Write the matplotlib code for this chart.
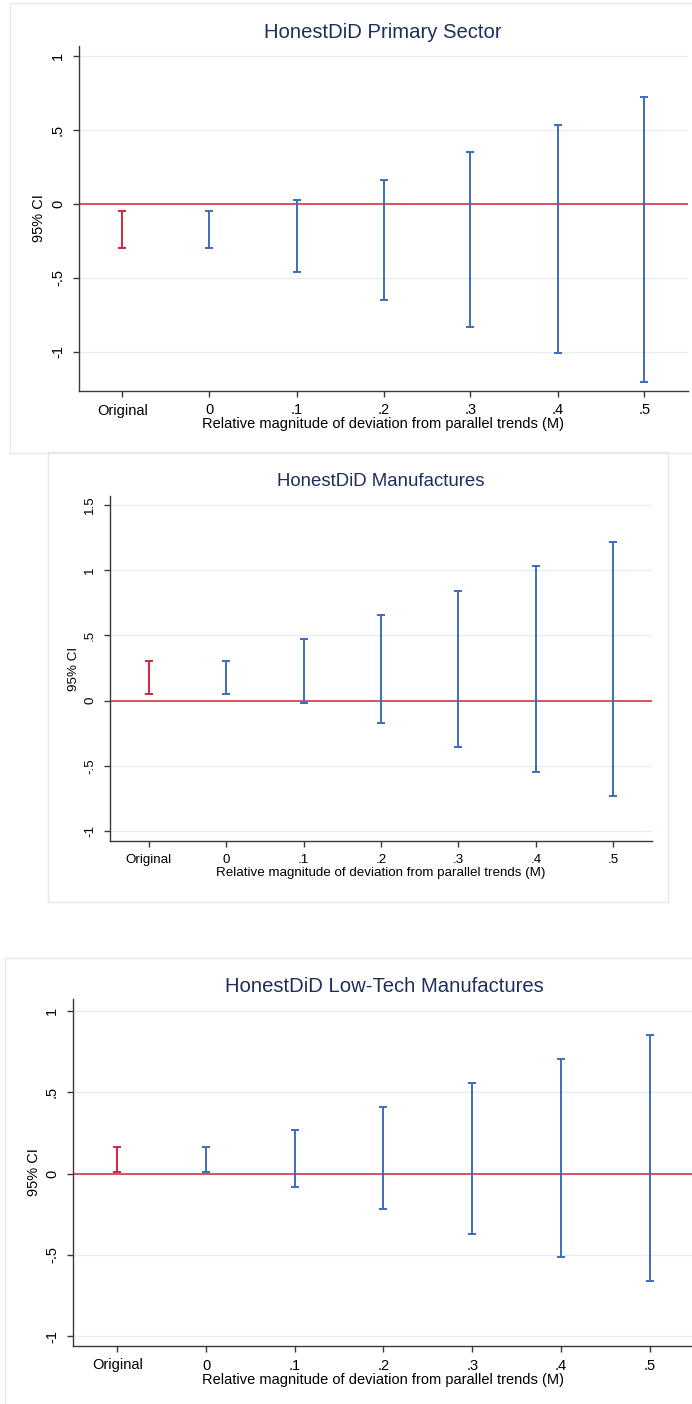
import matplotlib
matplotlib.use("Agg")
import matplotlib.pyplot as plt
from matplotlib.patches import Rectangle

W, H = 692, 1404

plt.rcParams['font.family'] = ['Liberation Sans', 'DejaVu Sans']

# HonestDiD sensitivity results: original CI plus robust CIs for M = 0 ... .5
m_pos = [-0.1, 0.0, 0.1, 0.2, 0.3, 0.4, 0.5]
m_labels = ['Original', '0', '.1', '.2', '.3', '.4', '.5']

primary_lb = [-0.30, -0.30, -0.46, -0.65, -0.83, -1.01, -1.20]
primary_ub = [-0.045, -0.045, 0.03, 0.165, 0.35, 0.535, 0.725]

manuf_lb = [0.05, 0.05, -0.02, -0.17, -0.355, -0.545, -0.735]
manuf_ub = [0.30, 0.30, 0.47, 0.655, 0.84, 1.03, 1.22]

lowtech_lb = [0.012, 0.012, -0.08, -0.22, -0.37, -0.515, -0.66]
lowtech_ub = [0.166, 0.166, 0.27, 0.41, 0.56, 0.705, 0.85]

titles = ['HonestDiD Primary Sector', 'HonestDiD Manufactures',
          'HonestDiD Low-Tech Manufactures']
yticks_all = [[-1, -0.5, 0, 0.5, 1],
              [-1, -0.5, 0, 0.5, 1, 1.5],
              [-1, -0.5, 0, 0.5, 1]]

red = '#d2263c'
blue = '#3c6cc0'
navy = '#1f2f5c'
grid_c = '#e6eef1'
frame_c = '#e2eaec'

# pixel layout: panel border, plot area, label positions
panels = [
    dict(box=(10, 3, 705, 453), ax=(79, 46, 688, 391), ylim=(-1.264, 1.068),
         title_x=383, title_y=32, ylab_x=39, xlab_y=-0.075, s=1.0),
    dict(box=(48, 452, 668, 902), ax=(110, 496, 652, 841), ylim=(-1.077, 1.569),
         title_x=381, title_y=481, ylab_x=74, xlab_y=-0.075, s=0.92),
    dict(box=(5, 958, 705, 1412), ax=(73, 999, 694, 1346), ylim=(-1.061, 1.074),
         title_x=384, title_y=986, ylab_x=34, xlab_y=-0.078, s=1.0),
]
lows = [primary_lb, manuf_lb, lowtech_lb]
highs = [primary_ub, manuf_ub, lowtech_ub]


def fx(px):
    return px / W


def fy(py):
    return 1 - py / H


def fmt_tick(v):
    if v == 0:
        return '0'
    return ('%g' % v).replace('0.', '.')


fig = plt.figure(figsize=(W / 100, H / 100), dpi=100)
fig.patch.set_facecolor('white')

for i, p in enumerate(panels):
    bx0, by0, bx1, by1 = p['box']
    fig.patches.append(Rectangle((fx(bx0), fy(by1)), fx(bx1 - bx0), (by1 - by0) / H,
                                 transform=fig.transFigure, fill=False,
                                 edgecolor=frame_c, linewidth=1.0, zorder=0))
    ax0, ay0, ax1, ay1 = p['ax']
    ax = fig.add_axes([fx(ax0), fy(ay1), fx(ax1 - ax0), (ay1 - ay0) / H])
    s = p['s']

    ax.axhline(0, color=red, linewidth=1.1, zorder=2)
    for j in range(len(m_pos)):
        lo, hi = lows[i][j], highs[i][j]
        ax.errorbar(m_pos[j], (lo + hi) / 2, yerr=(hi - lo) / 2, fmt='none',
                    ecolor=red if j == 0 else blue, elinewidth=1.4,
                    capsize=3.2, capthick=1.4, zorder=3)

    ax.set_xlim(-0.15, 0.55)
    ax.set_ylim(*p['ylim'])
    ax.set_xticks(m_pos)
    ax.set_xticklabels(m_labels)
    yt = yticks_all[i]
    ax.set_yticks(yt)
    ax.set_yticklabels([fmt_tick(v) for v in yt], rotation=90, va='center')
    ax.grid(axis='y', color=grid_c, linewidth=1.0, zorder=0)
    ax.set_axisbelow(True)
    for side in ['top', 'right']:
        ax.spines[side].set_visible(False)
    for side in ['left', 'bottom']:
        ax.spines[side].set_color('#3a3a3a')
        ax.spines[side].set_linewidth(1.0)
    ax.tick_params(axis='both', direction='out', length=4, width=1.0,
                   color='#3a3a3a', labelsize=10.5 * s, labelcolor='black')
    ax.tick_params(axis='x', pad=5)
    ax.tick_params(axis='y', pad=6)

    fig.text(fx(p['title_x']), fy(p['title_y']), titles[i], ha='center',
             va='center', color=navy, fontsize=14.6 * s)
    fig.text(fx(p['ylab_x']), fy((ay0 + ay1) / 2), '95% CI', rotation=90,
             ha='center', va='center', fontsize=10.5 * s)
    ax.set_xlabel('Relative magnitude of deviation from parallel trends (M)',
                  fontsize=10.5 * s)
    ax.xaxis.set_label_coords(0.5, p['xlab_y'])

fig.savefig('out.png', dpi=100)
